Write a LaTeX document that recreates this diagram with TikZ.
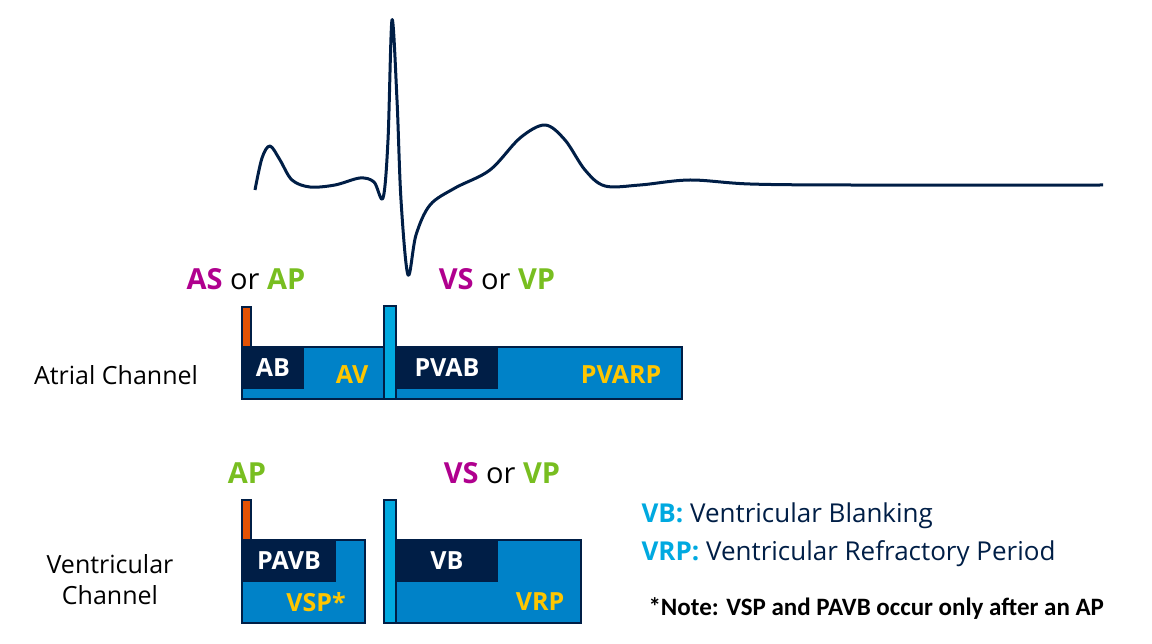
\documentclass[tikz,border=0pt]{standalone}
\usepackage{fontspec}
\setmainfont{Open Sans}
\newfontfamily\carlitofont{Carlito}
\definecolor{mag}{HTML}{B0008E}
\definecolor{grn}{HTML}{78BE20}
\definecolor{org}{HTML}{E35205}
\definecolor{cyn}{HTML}{00A9E0}
\definecolor{blu}{HTML}{0082C8}
\definecolor{nav}{HTML}{001E46}
\definecolor{yel}{HTML}{FFC600}
\begin{document}
\begin{tikzpicture}[x=1pt,y=-1pt,
  bx/.style={draw=nav,line width=1.5pt,fill=blu},
  dk/.style={fill=nav},
  cb/.style={draw=nav,line width=1.2pt,fill=cyn},
  ob/.style={draw=nav,line width=1.2pt,fill=org},
  wl/.style={text=white,font=\bfseries\fontsize{25}{25}\selectfont},
  yl/.style={text=yel,font=\bfseries\fontsize{25}{25}\selectfont},
  ev/.style={font=\fontsize{29}{29}\selectfont},
  lab/.style={font=\fontsize{25}{31}\selectfont,align=left}]
\useasboundingbox (0,0) rectangle (1152,644);
% ECG
\draw[nav,line width=3pt,line join=round] plot[smooth,tension=0.55] coordinates {
(255,190) (262,158) (270,146) (280,160) (292,180) (310,187) (335,185) (360,178) (374,182) (383,198) (388,140) (392,20) (397,100) (401,200) (408,275) (416,235) (430,205) (455,188) (490,170) (520,138) (545,125) (565,140) (585,170) (605,186) (640,185) (690,180) (750,184) (850,185) (1103,185)};
% Atrial
\path[bx] (242,347) rectangle (384,399); \path[dk] (243,348) rectangle (304,389);
\path[bx] (396,347) rectangle (682,399); \path[dk] (397,348) rectangle (498,389);
\path[ob] (242,307) rectangle (251,347);
\path[cb] (384,306) rectangle (396,399);
\node[wl] (ab) at (273,368) {AB};
\node[yl] (av) at (352,375) {AV};
\node[wl] (pvab) at (447,368) {PVAB};
\node[yl] (pvarp) at (621,375) {PVARP};
\node[lab] (ac) at (116,375) {Atrial Channel};
\node[ev] (e1) at (246,279) {\textbf{\color{mag}AS}~or~\textbf{\color{grn}AP}};
\node[ev] (e2) at (497,279) {\textbf{\color{mag}VS}~or~\textbf{\color{grn}VP}};
% Ventricular
\path[bx] (242,540) rectangle (365,623); \path[dk] (243,541) rectangle (336,582);
\path[bx] (396,540) rectangle (581,623); \path[dk] (397,541) rectangle (498,582);
\path[ob] (242,500) rectangle (251,540);
\path[cb] (384,500) rectangle (396,623);
\node[wl] (pavb) at (289,561) {PAVB};
\node[yl] (vsp) at (316,602) {VSP*};
\node[wl] (vb) at (447,561) {VB};
\node[yl] (vrp) at (540,602) {VRP};
\node[lab,align=center] (vc) at (110,580) {Ventricular\\Channel};
\node[ev] (e3) at (247,473) {\textbf{\color{grn}AP}};
\node[ev] (e4) at (502,473) {\textbf{\color{mag}VS}~or~\textbf{\color{grn}VP}};
% legend
\node[anchor=west,font=\fontsize{26}{26}\selectfont,text=nav] (l1) at (638,516) {\textbf{\color{cyn}VB:}~Ventricular Blanking};
\node[anchor=west,font=\fontsize{26}{26}\selectfont,text=nav] (l2) at (638,554) {\textbf{\color{cyn}VRP:}~Ventricular Refractory Period};
\node[anchor=west,font=\carlitofont\bfseries\fontsize{25}{25}\selectfont] (n) at (645,609) {*Note: VSP and PAVB occur only after an AP};
\end{tikzpicture}
\end{document}
